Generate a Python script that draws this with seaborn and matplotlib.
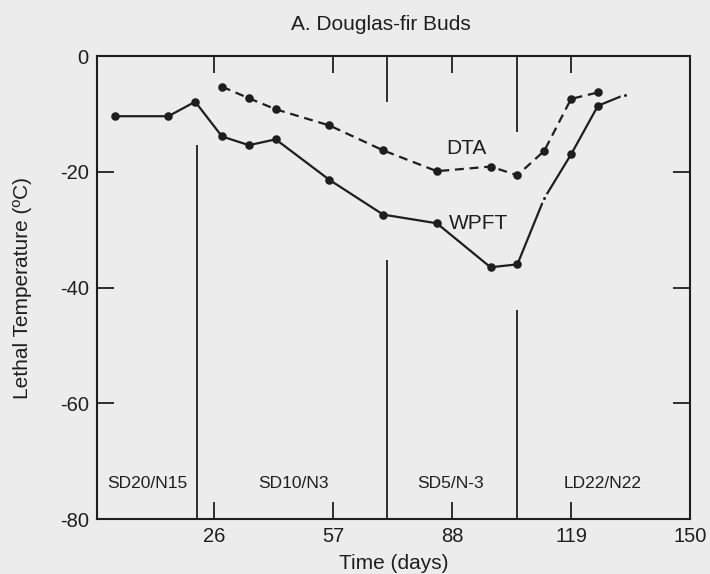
import numpy as np
import pandas as pd
import matplotlib
matplotlib.use("Agg")
import matplotlib.pyplot as plt
import seaborn as sns

# data
wpft_days = [0, 14, 21, 28, 35, 42, 56, 70, 84, 98, 105, 112, 119, 126, 133]
wpft_temp = [-10.4, -10.4, -7.9, -13.9, -15.4, -14.4, -21.4, -27.4, -28.9,
             -36.5, -36.0, -24.6, -17.0, -8.6, -6.7]
wpft_small = [112, 133]  # points drawn as small dots

dta_days = [28, 35, 42, 56, 70, 84, 98, 105, 112, 119, 126]
dta_temp = [-5.3, -7.3, -9.2, -12.0, -16.3, -19.9, -19.1, -20.6, -16.4, -7.4, -6.3]

# treatment boundaries: day, lower line top, upper line bottom
bound_days = [21.4, 71, 104.8]
bound_low_top = [-15.4, -35.2, -43.9]
bound_up_bottom = [0, -7.9, -13.2]

period_labels = ["SD20/N15", "SD10/N3", "SD5/N-3", "LD22/N22"]
period_x = [8.4, 46.5, 87.6, 127.3]

xticks = [26, 57, 88, 119, 150]
yticks = [0, -20, -40, -60, -80]

sns.set_theme(style="ticks")
plt.rcParams["font.family"] = ["Liberation Sans", "DejaVu Sans"]

bg = "#ececec"
ink = "#1e1e1e"

wpft = pd.DataFrame({"day": wpft_days, "temp": wpft_temp})
wpft["small"] = wpft["day"].isin(wpft_small)
dta = pd.DataFrame({"day": dta_days, "temp": dta_temp})

fig = plt.figure(figsize=(7.1, 5.74), dpi=100, facecolor=bg)
ax = fig.add_axes([0.1366, 0.0958, 0.8352, 0.8066])
ax.set_facecolor(bg)

# lines
sns.lineplot(data=wpft, x="day", y="temp", ax=ax, color=ink, lw=1.6,
             estimator=None, sort=False)
sns.lineplot(data=dta, x="day", y="temp", ax=ax, color=ink, lw=1.6,
             estimator=None, sort=False, dashes=False, linestyle=(0, (4, 2.6)))

# markers
big = wpft[~wpft["small"]]
sns.scatterplot(data=big, x="day", y="temp", ax=ax, color=ink, s=38,
                edgecolor=ink, linewidth=0, zorder=4)
sns.scatterplot(data=wpft[wpft["small"]], x="day", y="temp", ax=ax, color=ink,
                s=22, edgecolor=bg, linewidth=2.5, zorder=4)
sns.scatterplot(data=dta, x="day", y="temp", ax=ax, color=ink, s=38,
                edgecolor=ink, linewidth=0, zorder=4)

# treatment boundary lines
ax.vlines(bound_days, -80, bound_low_top, color=ink, lw=1.3)
ax.vlines(bound_days, bound_up_bottom, 0, color=ink, lw=1.3)

for lab, x in zip(period_labels, period_x):
    ax.text(x, -73.9, lab, ha="center", va="center", fontsize=12.5, color=ink)

ax.text(91.7, -16.0, "DTA", ha="center", va="center", fontsize=15, color=ink)
ax.text(95, -28.9, "WPFT", ha="center", va="center", fontsize=15, color=ink)

ax.set_xlim(-4.6, 150)
ax.set_ylim(-80, 0)
ax.set_xticks(xticks)
ax.set_yticks(yticks)
ax.set_yticklabels([str(t) for t in yticks])
ax.tick_params(direction="in", length=12, width=1.3, colors=ink,
               labelsize=14.5, top=True, right=True, pad=6)
for s in ax.spines.values():
    s.set_color(ink)
    s.set_linewidth(1.5)

ax.set_xlabel("Time (days)", fontsize=15, color=ink, va="center")
ax.xaxis.set_label_coords(0.5, -0.097)
ax.set_ylabel("Lethal Temperature (ºC)", fontsize=15, color=ink, va="center")
ax.yaxis.set_label_coords(-0.1255, 0.5)
fig.text(381 / 710, 1 - 25 / 574, "A. Douglas-fir Buds", ha="center",
         va="center", fontsize=15, color=ink)

fig.savefig("out.png", dpi=100, facecolor=bg)
